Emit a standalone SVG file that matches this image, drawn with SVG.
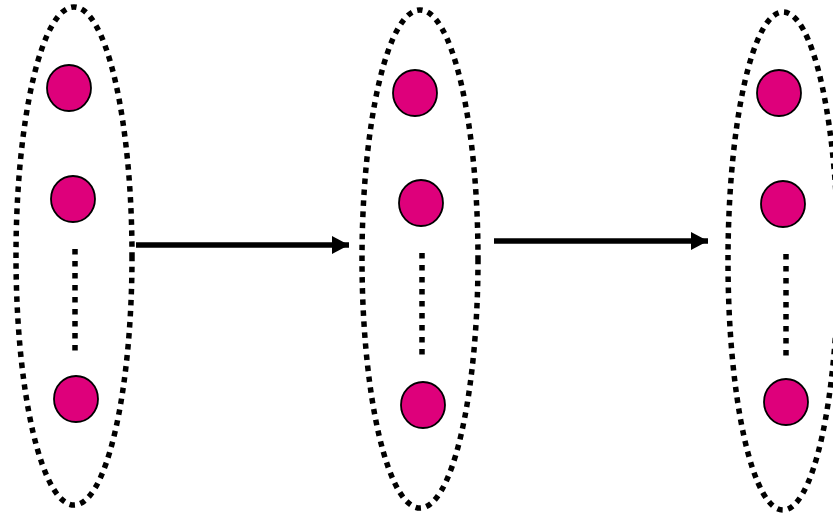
<svg xmlns="http://www.w3.org/2000/svg" width="833" height="513" viewBox="0 0 833 513">
<style>
.grp{fill:none;stroke:#000;stroke-width:5.5;stroke-dasharray:5.5 5.5}
.vd{fill:none;stroke:#000;stroke-width:5.5;stroke-dasharray:5.5 6.5}
.n{fill:#DE007B;stroke:#000;stroke-width:1.8}
.c{stroke:#000;stroke-width:5.5;fill:none}
</style>
<defs>
<marker id="ah" markerUnits="userSpaceOnUse" markerWidth="20" markerHeight="20" refX="17" refY="10" orient="auto">
<path d="M0,1 L17,10 L0,19 Z" fill="#000"/>
</marker>
</defs>
<g id="group1">
<ellipse class="grp" cx="74" cy="256" rx="58" ry="249"/>
<line class="vd" x1="75" y1="249" x2="75" y2="352"/>
<g id="n1a"><ellipse class="n" cx="69" cy="88" rx="22" ry="23"/></g>
<g id="n1b"><ellipse class="n" cx="73" cy="199" rx="22" ry="23"/></g>
<g id="n1c"><ellipse class="n" cx="76" cy="399" rx="22" ry="23"/></g>
</g>
<g id="group2">
<ellipse class="grp" cx="420" cy="259" rx="58" ry="249"/>
<line class="vd" x1="422" y1="253" x2="422" y2="356"/>
<g id="n2a"><ellipse class="n" cx="415" cy="93" rx="22" ry="23"/></g>
<g id="n2b"><ellipse class="n" cx="421" cy="203" rx="22" ry="23"/></g>
<g id="n2c"><ellipse class="n" cx="423" cy="405" rx="22" ry="23"/></g>
</g>
<g id="group3">
<ellipse class="grp" cx="783" cy="261" rx="55" ry="249"/>
<line class="vd" x1="786" y1="254" x2="786" y2="357"/>
<g id="n3a"><ellipse class="n" cx="779" cy="93" rx="22" ry="23"/></g>
<g id="n3b"><ellipse class="n" cx="783" cy="204" rx="22" ry="23"/></g>
<g id="n3c"><ellipse class="n" cx="786" cy="402" rx="22" ry="23"/></g>
</g>
<g id="connectors">
<line class="c" x1="136" y1="245" x2="349" y2="245" marker-end="url(#ah)"/>
<line class="c" x1="494" y1="241" x2="708" y2="241" marker-end="url(#ah)"/>
</g>
</svg>
